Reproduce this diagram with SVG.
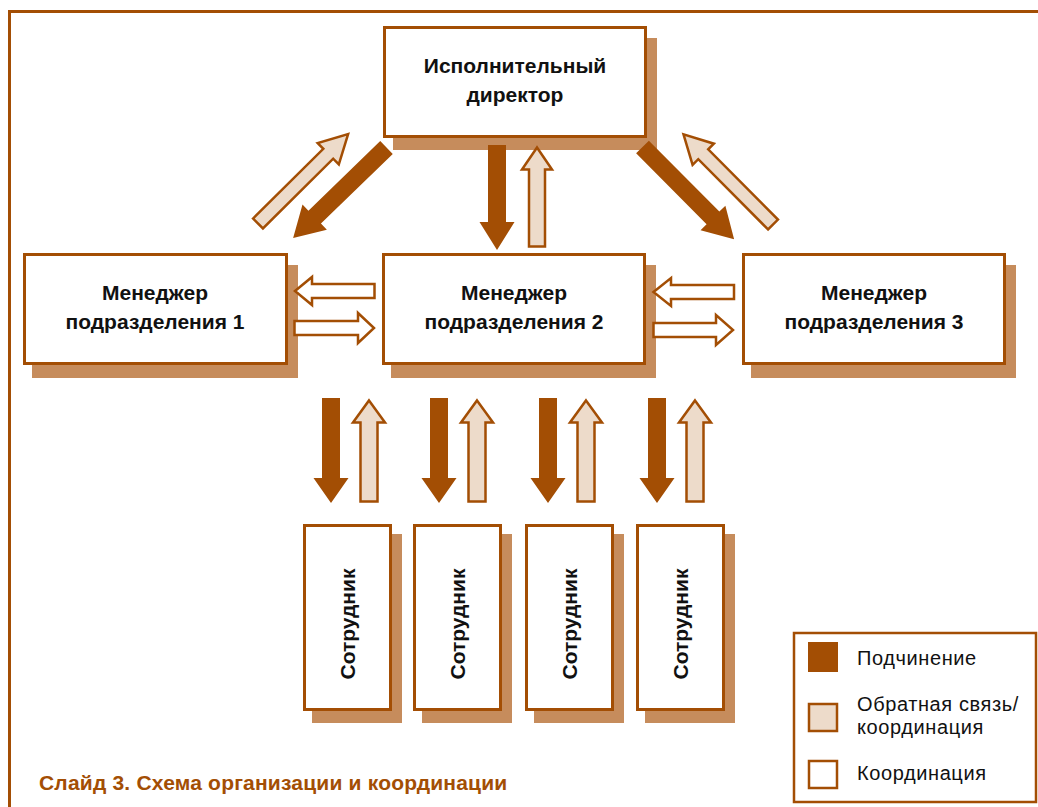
<svg xmlns="http://www.w3.org/2000/svg" width="1038" height="807" viewBox="0 0 1038 807">
  <style>
    .box { fill: #ffffff; stroke: #a34e04; stroke-width: 3; }
    .shadow { fill: #c68c5c; }
    .dark { fill: #a34e04; }
    .light { fill: #eddbca; stroke: #a34e04; stroke-width: 2.5; stroke-linejoin: miter; }
    .coord { fill: #ffffff; stroke: #a34e04; stroke-width: 2.5; stroke-linejoin: miter; }
    .label { font-family: "Liberation Sans", Arial, sans-serif; font-weight: bold; font-size: 21px; fill: #111111; text-anchor: middle; }
    .vlabel { font-family: "Liberation Sans", Arial, sans-serif; font-weight: bold; font-size: 21px; fill: #111111; text-anchor: middle; }
    .legend { font-family: "Liberation Sans", Arial, sans-serif; font-size: 20px; fill: #111111; letter-spacing: 0.6px; }
    .caption { font-family: "Liberation Sans", Arial, sans-serif; font-weight: bold; font-size: 21px; fill: #a34e04; letter-spacing: 0.2px; }
  </style>
  <defs>
    <!-- vertical arrows, drawn from the top -->
    <polygon id="empDown" points="-9,0 9,0 9,80 17.5,80 0,105 -17.5,80 -9,80"/>
    <polygon id="empUp" points="0,1.5 16,23.5 8.5,23.5 8.5,102.5 -8.5,102.5 -8.5,23.5 -16,23.5"/>
    <polygon id="topDown" points="-9,0 9,0 9,77 17.5,77 0,105 -17.5,77 -9,77"/>
    <polygon id="topUp" points="0,1.5 15,23.5 8,23.5 8,100.5 -8,100.5 -8,23.5 -15,23.5"/>
    <!-- diagonal arrows, pointing along +x from the tail centre -->
    <polygon id="diagDark" points="0,-9 100,-9 100,-17.5 130,0 100,17.5 100,9 0,9"/>
    <polygon id="diagLight" points="0,-7 99,-7 99,-15 127,0 99,15 99,7 0,7"/>
  </defs>

  <!-- page frame -->
  <path d="M9.5,807 V11.5 H1038" fill="none" stroke="#a34e04" stroke-width="3"/>

  <!-- nodes -->
  <g id="director">
    <rect class="shadow" x="393" y="38" width="264" height="112"/>
    <rect class="box" x="384.5" y="27.5" width="261" height="109"/>
    <text class="label" x="515" y="73">Исполнительный</text>
    <text class="label" x="515" y="102">директор</text>
  </g>
  <g id="manager1">
    <rect class="shadow" x="32" y="265" width="266" height="113"/>
    <rect class="box" x="24.5" y="254.5" width="262" height="109"/>
    <text class="label" x="155" y="300">Менеджер</text>
    <text class="label" x="155" y="329">подразделения 1</text>
  </g>
  <g id="manager2">
    <rect class="shadow" x="391" y="265" width="265" height="113"/>
    <rect class="box" x="383.5" y="254.5" width="261" height="109"/>
    <text class="label" x="514" y="300">Менеджер</text>
    <text class="label" x="514" y="329">подразделения 2</text>
  </g>
  <g id="manager3">
    <rect class="shadow" x="751" y="265" width="265" height="113"/>
    <rect class="box" x="743.5" y="254.5" width="261" height="109"/>
    <text class="label" x="874" y="300">Менеджер</text>
    <text class="label" x="874" y="329">подразделения 3</text>
  </g>
  <g id="employee1">
    <rect class="shadow" x="312" y="534" width="90" height="189"/>
    <rect class="box" x="304.5" y="525.5" width="86" height="184"/>
    <text class="vlabel" transform="translate(355,624) rotate(-90)">Сотрудник</text>
  </g>
  <g id="employee2">
    <rect class="shadow" x="422" y="534" width="90" height="189"/>
    <rect class="box" x="414.5" y="525.5" width="86" height="184"/>
    <text class="vlabel" transform="translate(465,624) rotate(-90)">Сотрудник</text>
  </g>
  <g id="employee3">
    <rect class="shadow" x="534" y="534" width="90" height="189"/>
    <rect class="box" x="526.5" y="525.5" width="86" height="184"/>
    <text class="vlabel" transform="translate(577,624) rotate(-90)">Сотрудник</text>
  </g>
  <g id="employee4">
    <rect class="shadow" x="645" y="534" width="90" height="189"/>
    <rect class="box" x="637.5" y="525.5" width="86" height="184"/>
    <text class="vlabel" transform="translate(688,624) rotate(-90)">Сотрудник</text>
  </g>

  <!-- connectors -->
  <g id="connectors">
    <!-- director to managers -->
    <use href="#diagDark" class="dark" transform="translate(386.5,147.5) rotate(135.9)"/>
    <use href="#diagLight" class="light" transform="translate(258,223.5) rotate(-44.8)"/>
    <use href="#diagDark" class="dark" transform="translate(642.5,147) rotate(45.2)"/>
    <use href="#diagLight" class="light" transform="translate(773,224.5) rotate(-134.8)"/>
    <use href="#topDown" class="dark" transform="translate(497,145)"/>
    <use href="#topUp" class="light" transform="translate(537,146)"/>

    <!-- between managers -->
    <polygon class="coord" points="295,291 312,277 312,284 374.5,284 374.5,298 312,298 312,305"/>
    <polygon class="coord" points="294.5,321 358,321 358,313 374,328 358,343 358,335 294.5,335"/>
    <polygon class="coord" points="653.5,292 671,278 671,285 734,285 734,299 671,299 671,306"/>
    <polygon class="coord" points="653.5,323 716,323 716,315 733,330 716,345 716,337 653.5,337"/>

    <!-- manager 2 to employees -->
    <use href="#empDown" class="dark" transform="translate(331,398)"/>
    <use href="#empUp" class="light" transform="translate(369,399)"/>
    <use href="#empDown" class="dark" transform="translate(439,398)"/>
    <use href="#empUp" class="light" transform="translate(477,399)"/>
    <use href="#empDown" class="dark" transform="translate(548,398)"/>
    <use href="#empUp" class="light" transform="translate(586,399)"/>
    <use href="#empDown" class="dark" transform="translate(657,398)"/>
    <use href="#empUp" class="light" transform="translate(695,399)"/>
  </g>

  <!-- legend -->
  <g id="legend">
    <rect x="794" y="633" width="242" height="169" fill="#ffffff" stroke="#a34e04" stroke-width="2.5"/>
    <rect x="808" y="642" width="30" height="30" class="dark"/>
    <rect x="809" y="704" width="28" height="27" class="light"/>
    <rect x="809" y="761" width="28" height="27" class="coord"/>
    <text class="legend" x="857" y="665">Подчинение</text>
    <text class="legend" x="857" y="711">Обратная связь/</text>
    <text class="legend" x="857" y="734">координация</text>
    <text class="legend" x="857" y="780">Координация</text>
  </g>

  <text class="caption" x="39" y="790">Слайд 3. Схема организации и координации</text>
</svg>
